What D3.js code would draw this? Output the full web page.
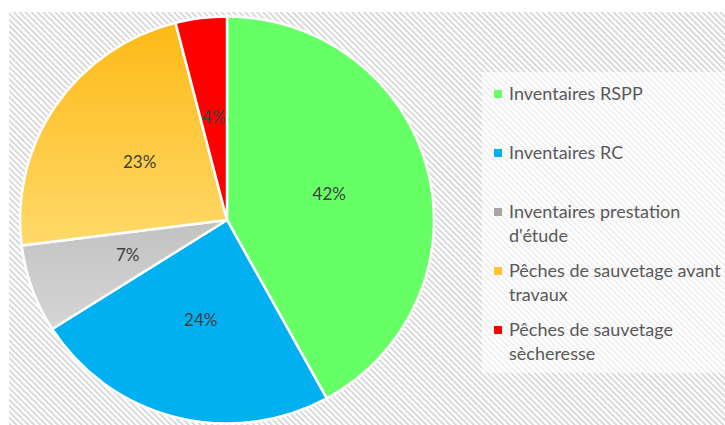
<!DOCTYPE html>
<html>
<head>
<meta charset="utf-8">
<script src="https://cdn.jsdelivr.net/npm/d3@7"></script>
<style>
  html, body { margin: 0; padding: 0; background: #ffffff; }
  svg { display: block; }
  text { font-family: Lato, "Open Sans", "Liberation Sans", sans-serif; }
</style>
</head>
<body>
<svg id="chart" width="725" height="425"></svg>
<script>
// Répartition des opérations de pêche
const categories = [
  "Inventaires RSPP",
  "Inventaires RC",
  "Inventaires prestation d'étude",
  "Pêches de sauvetage avant travaux",
  "Pêches de sauvetage sècheresse"
];
const values = [42, 24, 7, 23, 4];
const legendLines = [
  ["Inventaires RSPP"],
  ["Inventaires RC"],
  ["Inventaires prestation", "d'étude"],
  ["Pêches de sauvetage avant", "travaux"],
  ["Pêches de sauvetage", "sècheresse"]
];
const colorTop = ["#66ff66", "#00b0f0", "#9e9e9e", "#fdb913", "#ff0000"];
const colorBottom = ["#66ff66", "#00b0f0", "#d4d4d4", "#ffdb70", "#ff0000"];
const legendColors = ["#66ff66", "#00b0f0", "#a6a6a6", "#ffc233", "#ff0000"];

const svg = d3.select("#chart");
const W = 725, H = 425;
const defs = svg.append("defs");

// diagonal hatch for the plot background
const hatch = defs.append("pattern")
  .attr("id", "hatch")
  .attr("patternUnits", "userSpaceOnUse")
  .attr("width", 4.2).attr("height", 4.2)
  .attr("patternTransform", "rotate(-45)");
hatch.append("rect").attr("width", 4.2).attr("height", 4.2).attr("fill", "#ffffff");
hatch.append("line")
  .attr("x1", 1).attr("y1", 0).attr("x2", 1).attr("y2", 4.2)
  .attr("stroke", "#d6d6d6").attr("stroke-width", 1.8);

const cx = 227, cy = 220, R = 207, yScale = 0.983;

// vertical gradients for each slice (pie-local coordinates)
colorTop.forEach((c, i) => {
  const gr = defs.append("linearGradient")
    .attr("id", "gradL" + i)
    .attr("gradientUnits", "userSpaceOnUse")
    .attr("x1", 0).attr("y1", -R).attr("x2", 0).attr("y2", R);
  gr.append("stop").attr("offset", "0%").attr("stop-color", c);
  gr.append("stop").attr("offset", i === 2 ? "75%" : "60%").attr("stop-color", colorBottom[i]);
});

svg.append("rect")
  .attr("x", 9).attr("y", 12).attr("width", W - 9).attr("height", H - 12)
  .attr("fill", "url(#hatch)");

// pie
const pie = d3.pie().sort(null).value(d => d)(values);
const arc = d3.arc().innerRadius(0).outerRadius(R);
const labelArc = d3.arc().innerRadius(R * 0.51).outerRadius(R * 0.51);

const g = svg.append("g").attr("transform", `translate(${cx},${cy})`);
g.append("g")
  .attr("transform", `scale(1,${yScale})`)
  .selectAll("path.slice")
  .data(pie)
  .join("path")
  .attr("class", "slice")
  .attr("d", arc)
  .attr("fill", (d, i) => "url(#gradL" + i + ")")
  .attr("stroke", "#ffffff")
  .attr("stroke-width", 2.5)
  .attr("stroke-linejoin", "round");

g.selectAll("text.lbl")
  .data(pie)
  .join("text")
  .attr("class", "lbl")
  .attr("transform", d => {
    const [x, y] = labelArc.centroid(d);
    return `translate(${x},${y * yScale})`;
  })
  .attr("text-anchor", "middle")
  .attr("dy", "0.35em")
  .attr("font-size", 17)
  .attr("fill", "#404040")
  .text(d => d.data + "%");

// legend
const lx = 482, ly = 72;
svg.append("rect")
  .attr("x", lx).attr("y", ly).attr("width", W - lx).attr("height", 301)
  .attr("fill", "#ffffff").attr("fill-opacity", 0.6);

const rowY = [94, 153, 212, 271, 330];
const leg = svg.append("g");
legendLines.forEach((lines, i) => {
  leg.append("rect")
    .attr("x", 494).attr("y", rowY[i] - 4).attr("width", 8).attr("height", 8)
    .attr("fill", legendColors[i]);
  const t = leg.append("text")
    .attr("x", 509).attr("y", rowY[i])
    .attr("font-size", 18)
    .attr("fill", "#595959");
  lines.forEach((s, k) => {
    t.append("tspan").attr("x", 509).attr("dy", k === 0 ? "0.35em" : 24).text(s);
  });
});
</script>
</body>
</html>
